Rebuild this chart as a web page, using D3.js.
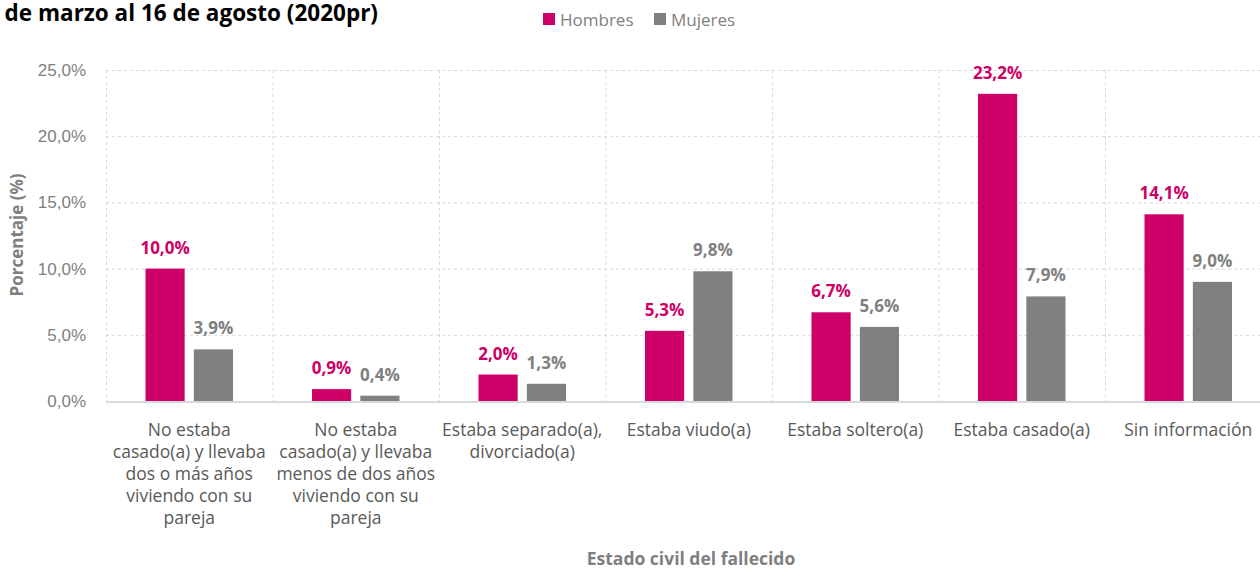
<!DOCTYPE html>
<html><head><meta charset="utf-8">
<script src="https://cdn.jsdelivr.net/npm/d3@7"></script>
<style>
html,body{margin:0;padding:0;background:#fff;overflow:hidden}
svg{display:block;font-family:"Segoe UI","Open Sans","Noto Sans",sans-serif}
</style></head><body>
<svg id="c" width="1260" height="568"></svg>
<script>
const categories = ["cat1","cat2","cat3","cat4","cat5","cat6","cat7"];
const categoryLabels = [
  ["No estaba","casado(a) y llevaba","dos o más años","viviendo con su","pareja"],
  ["No estaba","casado(a) y llevaba","menos de dos años","viviendo con su","pareja"],
  ["Estaba separado(a),","divorciado(a)"],
  ["Estaba viudo(a)"],
  ["Estaba soltero(a)"],
  ["Estaba casado(a)"],
  ["Sin información"]
];
const seriesNames = ["Hombres","Mujeres"];
const hombres = [10.0, 0.9, 2.0, 5.3, 6.7, 23.2, 14.1];
const mujeres = [3.9, 0.4, 1.3, 9.8, 5.6, 7.9, 9.0];
const yTicks = [0,5,10,15,20,25];
const colors = {Hombres:"#CC0066", Mujeres:"#808080"};

(function(){
const svg = d3.select("#c");
const left = 106, step = 166.5, plotTop = 70, bottom = 401;
const x = d3.scaleBand().domain(categories).range([left, left + step*categories.length]).paddingInner(0).paddingOuter(0);
const xs = d3.scaleBand().domain(seriesNames).range([39.5, 127]).paddingInner(0.19);
const y = d3.scaleLinear().domain([0,25]).range([bottom, plotTop]);
const fmt = v => d3.format(".1f")(v).replace(".", ",") + "%";

const yAxis = d3.axisLeft(y).tickValues(yTicks).tickFormat(fmt).tickSize(0).tickPadding(20);
const yg = svg.append("g").attr("transform",`translate(${left},0)`).call(yAxis);
yg.select(".domain").remove();
yg.selectAll("text").attr("fill","#7f7f7f").style("font-size","17px").style("font-family","inherit");
svg.append("g").selectAll("line").data(yTicks.filter(d=>d>0)).join("line")
  .attr("x1",left).attr("x2",1260).attr("y1",d=>y(d)+0.5).attr("y2",d=>y(d)+0.5)
  .attr("stroke","#d9d9d9").attr("stroke-dasharray","3,3").attr("stroke-width",1);
svg.append("g").selectAll("line").data(categories).join("line")
  .attr("x1",d=>x(d)+0.5).attr("x2",d=>x(d)+0.5).attr("y1",plotTop).attr("y2",bottom)
  .attr("stroke","#d9d9d9").attr("stroke-dasharray","3,3").attr("stroke-width",1);

const data = categories.map((c,i)=>({c, vals:[{s:"Hombres",v:hombres[i]},{s:"Mujeres",v:mujeres[i]}]}));
const g = svg.append("g").selectAll("g").data(data).join("g").attr("transform",d=>`translate(${x(d.c)},0)`);
g.selectAll("rect").data(d=>d.vals).join("rect")
  .attr("x",d=>xs(d.s)).attr("width",xs.bandwidth())
  .attr("y",d=>y(d.v)).attr("height",d=>bottom-y(d.v))
  .attr("fill",d=>colors[d.s]);
g.selectAll("text").data(d=>d.vals).join("text")
  .attr("x",d=>xs(d.s)+xs.bandwidth()/2).attr("y",d=>y(d.v)-15)
  .attr("text-anchor","middle").attr("font-weight","bold").style("font-size","17px")
  .attr("fill",d=>colors[d.s]).text(d=>fmt(d.v));

svg.append("line").attr("x1",left).attr("x2",1260).attr("y1",bottom+1).attr("y2",bottom+1)
  .attr("stroke","#d9d9d9").attr("stroke-width",2);

const cl = svg.append("g").selectAll("text").data(categories).join("text")
  .attr("text-anchor","middle").attr("fill","#595959").style("font-size","17.5px");
cl.each(function(d,i){
  const t = d3.select(this);
  categoryLabels[i].forEach((ln,j)=>{
    t.append("tspan").attr("x",x(d)+x.bandwidth()/2).attr("y",436+22*j).text(ln);
  });
});

svg.append("text").attr("transform","translate(23,235) rotate(-90)").attr("text-anchor","middle")
  .attr("font-weight","bold").attr("fill","#7f7f7f").style("font-size","17px").text("Porcentaje (%)");
svg.append("text").attr("x",691).attr("y",565).attr("text-anchor","middle")
  .attr("font-weight","bold").attr("fill","#7f7f7f").style("font-size","17.5px").text("Estado civil del fallecido");

svg.append("text").attr("x",378).attr("y",21).attr("text-anchor","end")
  .attr("font-weight","bold").attr("fill","#000").style("font-size","22.5px").text("de marzo al 16 de agosto (2020pr)");

const leg = svg.append("g").selectAll("g").data(seriesNames).join("g")
  .attr("transform",(d,i)=>`translate(${i===0?543:654},13)`);
leg.append("rect").attr("width",12).attr("height",12).attr("fill",d=>colors[d]);
leg.append("text").attr("x",17).attr("y",12.5).attr("fill","#7f7f7f").style("font-size","17px").text(d=>d);
})();
</script>
</body></html>
